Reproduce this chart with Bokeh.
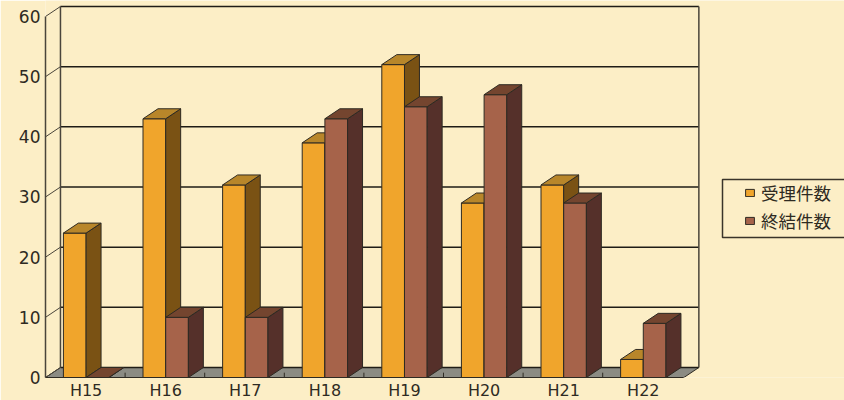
from bokeh.plotting import figure
from bokeh.models import Range1d, FixedTicker, Legend, LegendItem, BoxAnnotation
from bokeh.embed import file_html
from bokeh.resources import INLINE

categories = ["H15", "H16", "H17", "H18", "H19", "H20", "H21", "H22"]
received = [24, 43, 32, 39, 52, 29, 32, 3]
closed = [0, 10, 10, 43, 45, 47, 29, 9]
y_ticks = [0, 10, 20, 30, 40, 50, 60]
series_names = ["受理件数", "終結件数"]

BG = "#FCEEC6"
INK = "#2E2A22"
DX, DY = 0.188, 1.66      # pseudo-3D depth, in data units
BAR = 0.285
X0, X1 = -0.51, 7.51
PX = 79.6
PY = 377 / 6.017

p = figure(width=844, height=400, frame_width=799, frame_height=377,
           output_backend="svg", toolbar_location=None,
           x_range=Range1d(X0, X0 + 799 / PX), y_range=Range1d(0, PY),
           min_border_left=45, min_border_right=0, min_border_top=0, min_border_bottom=23,
           background_fill_color=BG, border_fill_color=BG, outline_line_color=None)
p.styles = {"position": "absolute", "left": "0px", "top": "0px"}
p.grid.visible = False

# floor
p.patch([X0, X1, X1 + DX, X0 + DX], [0, 0, DY, DY], fill_color="#8B8B83", line_color=INK, line_width=1)
# walls and gridlines
top = y_ticks[-1]
p.segment([X0 + DX] * len(y_ticks), [v + DY for v in y_ticks],
          [X1 + DX] * len(y_ticks), [v + DY for v in y_ticks], line_color="#1F1C16", line_width=1.5)
p.segment([X0] * len(y_ticks), y_ticks, [X0 + DX] * len(y_ticks), [v + DY for v in y_ticks],
          line_color="#4A453B", line_width=1)
p.segment([X0 + DX, X1 + DX], [DY, DY], [X0 + DX, X1 + DX], [top + DY, top + DY],
          line_color="#4A453B", line_width=1.5)
# floor ticks
edges = [X0 + i for i in range(1, len(categories))]
p.segment(edges, [0] * len(edges), edges, [0.8] * len(edges), line_color=INK, line_width=1)


def bars(values, offset, front, side, lid, name):
    xs = [i + offset for i in range(len(values))]
    r = p.quad(left=xs, right=[x + BAR for x in xs], bottom=[0] * len(xs), top=values,
               fill_color=front, line_color=INK, line_width=1, level="glyph")
    side_x = [[x + BAR, x + BAR + DX, x + BAR + DX, x + BAR] for x in xs]
    side_y = [[0, DY, v + DY, v] for v in values]
    lid_x = [[x, x + DX, x + BAR + DX, x + BAR] for x in xs]
    lid_y = [[v, v + DY, v + DY, v] for v in values]
    p.patches(side_x, side_y, fill_color=side, line_color=INK, line_width=1)
    p.patches(lid_x, lid_y, fill_color=lid, line_color=INK, line_width=1)
    return r


r1 = bars(received, -BAR, "#F0A52C", "#7A5214", "#B8862A", series_names[0])
r2 = bars(closed, 0, "#A6634A", "#55302A", "#74452F", series_names[1])

# axes
xa = p.xaxis[0]
xa.ticker = FixedTicker(ticks=list(range(len(categories))))
xa.major_label_overrides = {i: c for i, c in enumerate(categories)}
xa.bounds = (X0, X1)
xa.major_tick_in = 0
xa.major_tick_out = 0
xa.minor_tick_line_color = None
xa.axis_line_color = INK
xa.major_label_standoff = 3
xa.major_label_text_font = "DejaVu Sans"
xa.major_label_text_font_size = "16px"
xa.major_label_text_color = INK

ya = p.yaxis[0]
ya.ticker = FixedTicker(ticks=y_ticks)
ya.bounds = (0, top)
ya.major_tick_in = 0
ya.major_tick_out = 0
ya.minor_tick_line_color = None
ya.axis_line_color = "#4A453B"
ya.axis_line_width = 1.5
ya.major_label_standoff = 5
ya.major_label_text_font = "DejaVu Sans"
ya.major_label_text_font_size = "17px"
ya.major_label_text_color = INK

# legend
p.add_layout(BoxAnnotation(left=677, right=815, top=198, bottom=140,
                           left_units="screen", right_units="screen",
                           top_units="screen", bottom_units="screen",
                           fill_color=BG, fill_alpha=1, line_color="#3A342A", line_alpha=1, line_width=1.5))
legend = Legend(items=[LegendItem(label=series_names[0], renderers=[r1]),
                       LegendItem(label=series_names[1], renderers=[r2])],
                location=(699, 144), orientation="vertical",
                border_line_color=None, background_fill_alpha=0, margin=0, padding=0,
                glyph_width=11, glyph_height=9, label_standoff=6, label_height=17, spacing=3,
                label_text_font="Noto Sans CJK JP", label_text_font_size="17.5px",
                label_text_color=INK)
p.add_layout(legend)

open("out.html", "w").write(file_html(p, INLINE))
